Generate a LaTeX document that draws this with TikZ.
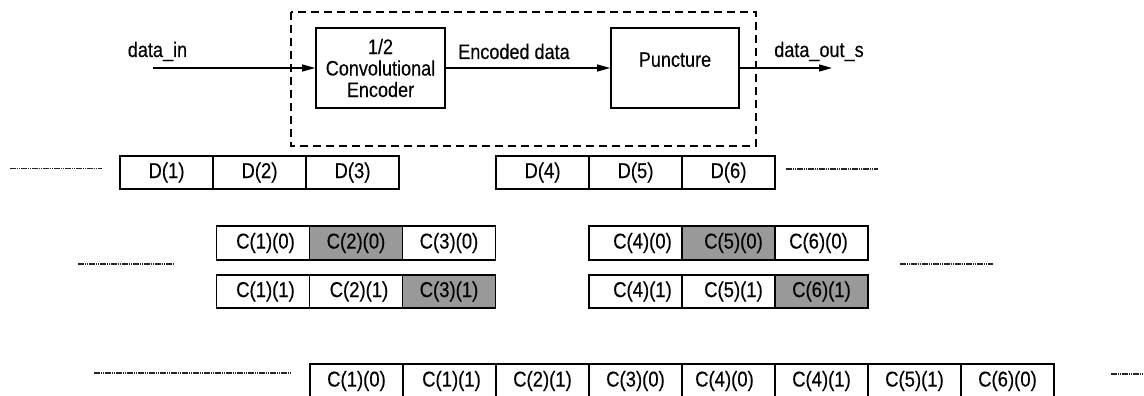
\documentclass[tikz,border=0pt]{standalone}
\usepackage{fontspec}
\setmainfont{Liberation Sans}[FakeStretch=0.86,FakeBold=0.3]
\usetikzlibrary{arrows.meta}
\definecolor{cellgray}{RGB}{153,153,153}

\begin{document}
\begin{tikzpicture}[x=1pt,y=1pt,yscale=-1,
        every node/.style={font=\fontsize{21}{21.5}\selectfont},
        blockbox/.style={draw,line width=1.6pt,minimum width=129pt,minimum height=80pt,inner sep=0pt,align=center},
        cellbox/.style={draw,line width=1.6pt,minimum width=93pt,minimum height=33pt,inner sep=0pt,outer sep=0pt,anchor=north west,font=\fontsize{21.5}{22}\selectfont},
        shadedcell/.style={cellbox,fill=cellgray},
        flowarrow/.style={line width=1.3pt,-{Triangle[length=13pt,width=7pt]}},
        gapline/.style={line width=1.1pt,dash pattern=on 1.5pt off 0.7pt,black!85}]
        \useasboundingbox (0,0) rectangle (1144,396);

        %Shape: Rectangle (dashed frame)
        \draw [line width=2.9pt,dash pattern=on 8pt off 5pt] (291,12) rectangle (756,146);

        %Shape: Rectangle
        \node [blockbox] (encoder) at (380.5,68) {1/2\\Convolutional\\Encoder};
        %Shape: Rectangle
        \node [blockbox,minimum width=128pt,text depth=17pt] (puncture) at (675,68) {Puncture};

        %Straight Lines
        \coordinate (datain) at (153,68);
        \coordinate (dataout) at (832,68);
        \draw [flowarrow] (datain) -- (encoder.west);
        \draw [flowarrow] (encoder.east) -- (puncture.west);
        \draw [flowarrow] (puncture.east) -- (dataout);

        % Text Node
        \node [anchor=base] (lbldatain) at (157.5,57) {data\_in};
        % Text Node
        \node [anchor=base] (lblencoded) at (514,59) {Encoded data};
        % Text Node
        \node [anchor=base] (lbldataout) at (819,57) {data\_out\_s};

        %Shape: Rectangle (input data)
        \node [cellbox] (d1) at (120,156) {D(1)};
        \node [cellbox] (d2) at (213,156) {D(2)};
        \node [cellbox] (d3) at (306,156) {D(3)};
        \node [cellbox] (d4) at (496,156) {D(4)};
        \node [cellbox] (d5) at (589,156) {D(5)};
        \node [cellbox] (d6) at (682,156) {D(6)};

        %Shape: Rectangle (coded bits, output 0)
        \node [cellbox,minimum height=34pt] (c10) at (216.5,226) {\hspace*{5pt}C(1)(0)};
        \node [shadedcell,minimum height=34pt] (c20) at (309.5,226) {C(2)(0)};
        \node [cellbox,minimum height=34pt] (c30) at (402.5,226) {C(3)(0)};
        \node [cellbox,minimum height=34pt] (c40) at (589,226) {\hspace*{14pt}C(4)(0)};
        \node [shadedcell,minimum height=34pt] (c50) at (682,226) {\hspace*{10pt}\raisebox{2pt}{C(5)(0)}};
        \node [cellbox,minimum height=34pt] (c60) at (775,226) {C(6)(0)\hspace*{6pt}};

        %Shape: Rectangle (coded bits, output 1)
        \node [cellbox] (c11) at (216.5,275) {\hspace*{5pt}C(1)(1)};
        \node [cellbox] (c21) at (309.5,275) {\hspace*{6pt}\raisebox{2pt}{C(2)(1)}};
        \node [shadedcell] (c31) at (402.5,275) {C(3)(1)};
        \node [cellbox] (c41) at (589,275) {\hspace*{14pt}C(4)(1)};
        \node [cellbox] (c51) at (682,275) {\hspace*{10pt}\raisebox{2pt}{C(5)(1)}};
        \node [shadedcell] (c61) at (775,275) {C(6)(1)};

        %Shape: Rectangle (punctured output)
        \node [cellbox,minimum height=34pt] (p1) at (310,364) {C(1)(0)};
        \node [cellbox,minimum height=34pt] (p2) at (403,364) {\hspace*{4pt}C(1)(1)};
        \node [cellbox,minimum height=34pt] (p3) at (496,364) {C(2)(1)};
        \node [cellbox,minimum height=34pt] (p4) at (589,364) {C(3)(0)};
        \node [cellbox,minimum height=34pt] (p5) at (682,364) {C(4)(0)\hspace*{8pt}};
        \node [cellbox,minimum height=34pt] (p6) at (775,364) {C(4)(1)};
        \node [cellbox,minimum height=34pt] (p7) at (868,364) {C(5)(1)};
        \node [cellbox,minimum height=34pt] (p8) at (961,364) {C(6)(0)};

        %Straight Lines (continuation marks)
        \draw [gapline] (10,168.5) -- (102,168.5);
        \draw [gapline] (786,169) -- (878,169);
        \draw [gapline] (78,264) -- (173,264);
        \draw [gapline] (900,264) -- (993,264);
        \draw [gapline] (94,373) -- (290,373);
        \draw [gapline] (1111,374) -- (1144,374);

\end{tikzpicture}
\end{document}
